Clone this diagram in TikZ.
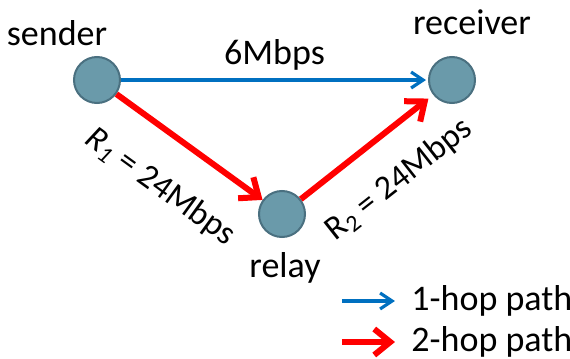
\documentclass[tikz,border=0pt]{standalone}
\usepackage{fontspec}
\setmainfont{Carlito}
\usepackage{tikz}
\usetikzlibrary{arrows.meta, positioning, calc}

\definecolor{nutxanh}{RGB}{106,154,170}
\definecolor{vienxanh}{RGB}{74,112,128}
\definecolor{xanhduong}{RGB}{0,112,192}
\definecolor{dotuoi}{RGB}{255,0,0}

\begin{document}
\begin{tikzpicture}[x=0.5pt, y=-0.5pt,
    nut/.style={circle, fill=nutxanh, draw=vienxanh, line width=1pt, minimum size=23pt, inner sep=0pt},
    chu/.style={font=\fontsize{18}{21}\selectfont, inner sep=1pt},
    chunho/.style={font=\fontsize{17}{20}\selectfont, inner sep=1pt},
    motbuoc/.style={draw=xanhduong, line width=1.6pt, -{Straight Barb[length=6pt,width=8pt]}},
    haibuoc/.style={draw=dotuoi, line width=3pt, -{Straight Barb[length=8pt,width=13pt]}}]

            \useasboundingbox (0,0) rectangle (570,359);

            % Vẽ các nút
            \node[nut] (sender) at (97,80) {};
            \node[nut] (receiver) at (452,80) {};
            \node[nut] (relay) at (282,214) {};

            % Tên các nút
            \node[chu] (tensender) at (57,33) {sender};
            \node[chu] (tenreceiver) at (472,22) {receiver};
            \node[chu] (tenrelay) at (285,268) {relay};

            % Đường 1 bước
            \draw[motbuoc, shorten >=1pt] (sender) -- (receiver) node[chu, midway, above=3pt] (r0) {6Mbps};

            % Đường 2 bước
            \draw[haibuoc] (sender) -- (relay) node[chunho, sloped, pos=0.5, below=15pt] (r1) {{\itshape R\textsubscript{1}} = 24Mbps};
            \draw[haibuoc, shorten >=3pt] (relay) -- (receiver) node[chunho, sloped, pos=0.53, below=13pt] (r2) {R\textsubscript{2} = 24Mbps};

            % Chú thích
            \node[chu, anchor=west] (leg1) at (409,301) {1-hop path};
            \node[chu, anchor=west] (leg2) at (409,342) {2-hop path};
            \coordinate (dau1) at (342,301);
            \coordinate (dau2) at (342,342);
            \draw[motbuoc, shorten >=7pt] (dau1) -- (leg1.west); % mũi tên xanh
            \draw[haibuoc, shorten >=7pt] (dau2) -- (leg2.west); % mũi tên đỏ

\end{tikzpicture}
\end{document}
